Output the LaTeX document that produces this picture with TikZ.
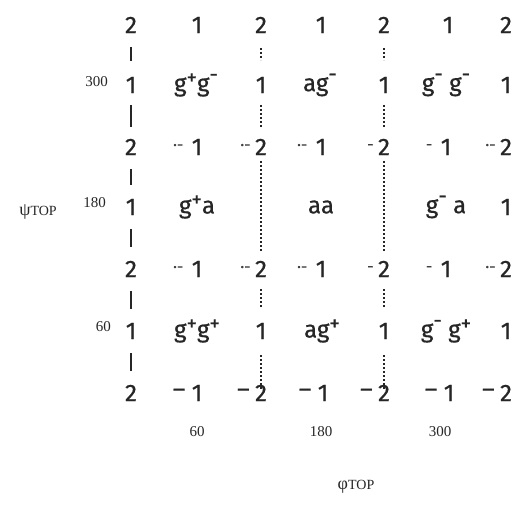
\documentclass[tikz,border=0pt]{standalone}
\usepackage{fontspec}
\newfontfamily\digfont[FakeBold=0.6]{Fira Sans}
\newfontfamily\serfont{Liberation Serif}
\newcommand{\plusup}{\raisebox{0.3em}{\fontsize{21}{21}\selectfont +}}
\newcommand{\minusup}{\raisebox{0.42em}{\fontsize{21}{21}\selectfont -}}
\begin{document}
\begin{tikzpicture}[x=1pt,y=-1pt,
  num/.style={font=\digfont\fontsize{24}{26}\selectfont, inner sep=0pt, text=black!85},
  lab/.style={font=\digfont\fontsize{24}{26}\selectfont, inner sep=0pt, text=black!85},
  pre/.style={font=\digfont\fontsize{16}{16}\selectfont, inner sep=0pt, text=black!75, anchor=east},
  endash/.style={font=\digfont\fontsize{24}{26}\selectfont, inner sep=0pt, text=black!85, anchor=east},
  ser/.style={font=\serfont\fontsize{15}{18}\selectfont, inner sep=0pt, text=black!85},
  bar/.style={draw=black!85, line width=1.6pt},
  vdot/.style={draw=black!85, line width=1.6pt, dash pattern=on 2pt off 2pt}]
\fill[white] (0,0) rectangle (515,521);
\useasboundingbox (0,0) rectangle (515,521);
% row 0
\node[num] (r0c0) at (131,25) {2};
\node[num] (r0c1) at (197,25) {1};
\node[num] (r0c2) at (261,25) {2};
\node[num] (r0c3) at (321,25) {1};
\node[num] (r0c4) at (384,25) {2};
\node[num] (r0c5) at (448,25) {1};
\node[num] (r0c6) at (506,25) {2};
% row 1
\node[ser, anchor=east] (l300) at (108,82) {300};
\node[num] (r1c0) at (131,85) {1};
\node[lab] (g1) at (196,85) {g\plusup g\minusup};
\node[num] (r1c2) at (261,85) {1};
\node[lab] (g2) at (320,85) {ag\minusup};
\node[num] (r1c4) at (384,85) {1};
\node[lab] (g3) at (446,85) {g\minusup\ g\minusup};
\node[num] (r1c6) at (506,85) {1};
% row 2
\node[num] (r2c0) at (131,147) {2};
\node[num] (r2c1) at (197,147) {1};
\node[num] (r2c2) at (261,147) {2};
\node[num] (r2c3) at (321,147) {1};
\node[num] (r2c4) at (384,147) {2};
\node[num] (r2c5) at (446,147) {1};
\node[num] (r2c6) at (506,147) {2};
\node[pre] (p21) at ([xshift=-8pt]r2c1.west) {·-};
\node[pre] (p22) at ([xshift=-4pt]r2c2.west) {·-};
\node[pre] (p23) at ([xshift=-8pt]r2c3.west) {·-};
\node[pre] (p24) at ([xshift=-4pt]r2c4.west) {-};
\node[pre] (p25) at ([xshift=-8pt]r2c5.west) {-};
\node[pre] (p26) at ([xshift=-4pt]r2c6.west) {·-};
% row 3
\node[ser, anchor=east] (l180) at (106,203) {180};
\node[num] (r3c0) at (131,207) {1};
\node[lab] (g4) at (197,207) {g\plusup a};
\node[lab] (g5) at (321,207) {aa};
\node[lab] (g6) at (446,207) {g\minusup\ a};
\node[num] (r3c6) at (506,207) {1};
% row 4
\node[num] (r4c0) at (131,269) {2};
\node[num] (r4c1) at (197,269) {1};
\node[num] (r4c2) at (261,269) {2};
\node[num] (r4c3) at (321,269) {1};
\node[num] (r4c4) at (384,269) {2};
\node[num] (r4c5) at (446,269) {1};
\node[num] (r4c6) at (506,269) {2};
\node[pre] (p41) at ([xshift=-8pt]r4c1.west) {·-};
\node[pre] (p42) at ([xshift=-4pt]r4c2.west) {·-};
\node[pre] (p43) at ([xshift=-8pt]r4c3.west) {·-};
\node[pre] (p44) at ([xshift=-4pt]r4c4.west) {-};
\node[pre] (p45) at ([xshift=-8pt]r4c5.west) {-};
\node[pre] (p46) at ([xshift=-4pt]r4c6.west) {·-};
% row 5
\node[ser, anchor=east] (l60) at (111,327) {60};
\node[num] (r5c0) at (131,331) {1};
\node[lab] (g7) at (197,331) {g\plusup g\plusup};
\node[num] (r5c2) at (261,331) {1};
\node[lab] (g8) at (322,331) {ag\plusup};
\node[num] (r5c4) at (384,331) {1};
\node[lab] (g9) at (446,331) {g\minusup\ g\plusup};
\node[num] (r5c6) at (506,331) {1};
% row 6
\node[num] (r6c0) at (131,393) {2};
\node[num] (r6c1) at (197,393) {1};
\node[num] (r6c2) at (261,393) {2};
\node[num] (r6c3) at (323,393) {1};
\node[num] (r6c4) at (384,393) {2};
\node[num] (r6c5) at (449,393) {1};
\node[num] (r6c6) at (506,393) {2};
\node[endash] (d1) at ([xshift=-6pt]r6c1.west) {–};
\node[endash] (d2) at ([xshift=-5pt]r6c2.west) {–};
\node[endash] (d3) at ([xshift=-6pt]r6c3.west) {–};
\node[endash] (d4) at ([xshift=-5pt]r6c4.west) {–};
\node[endash] (d5) at ([xshift=-6pt]r6c5.west) {–};
\node[endash] (d6) at ([xshift=-5pt]r6c6.west) {–};
% axis value labels
\node[ser] (b60) at (197,432) {60};
\node[ser] (b180) at (321,432) {180};
\node[ser] (b300) at (440,432) {300};
\node[ser] (psi) at (38,212) {{\fontsize{18}{20}\selectfont ψ}{\fontsize{14}{16}\selectfont TOP}};
\node[ser] (phi) at (356,487) {{\fontsize{18}{20}\selectfont φ}{\fontsize{14}{16}\selectfont TOP}};
% left solid bars
\draw[bar, shorten <=22pt, shorten >=24pt] (r0c0.center) -- (r1c0.center);
\draw[bar, shorten <=20pt, shorten >=20pt] (r1c0.center) -- (r2c0.center);
\draw[bar, shorten <=22pt, shorten >=22pt] (r2c0.center) -- (r3c0.center);
\draw[bar, shorten <=22pt, shorten >=22pt] (r3c0.center) -- (r4c0.center);
\draw[bar, shorten <=22pt, shorten >=22pt] (r4c0.center) -- (r5c0.center);
\draw[bar, shorten <=22pt, shorten >=22pt] (r5c0.center) -- (r6c0.center);
% dotted verticals
\foreach \c in {2,4}{
  \draw[vdot, shorten <=23pt, shorten >=25pt] (r0c\c.center) -- (r1c\c.center);
  \draw[vdot, shorten <=20pt, shorten >=20pt] (r1c\c.center) -- (r2c\c.center);
  \draw[vdot, shorten <=14pt, shorten >=18pt] (r2c\c.center) -- (r4c\c.center);
  \draw[vdot, shorten <=20pt, shorten >=24pt] (r4c\c.center) -- (r5c\c.center);
  \draw[vdot, shorten <=24pt, shorten >=4pt] (r5c\c.center) -- (r6c\c.center);
}
\end{tikzpicture}
\end{document}
